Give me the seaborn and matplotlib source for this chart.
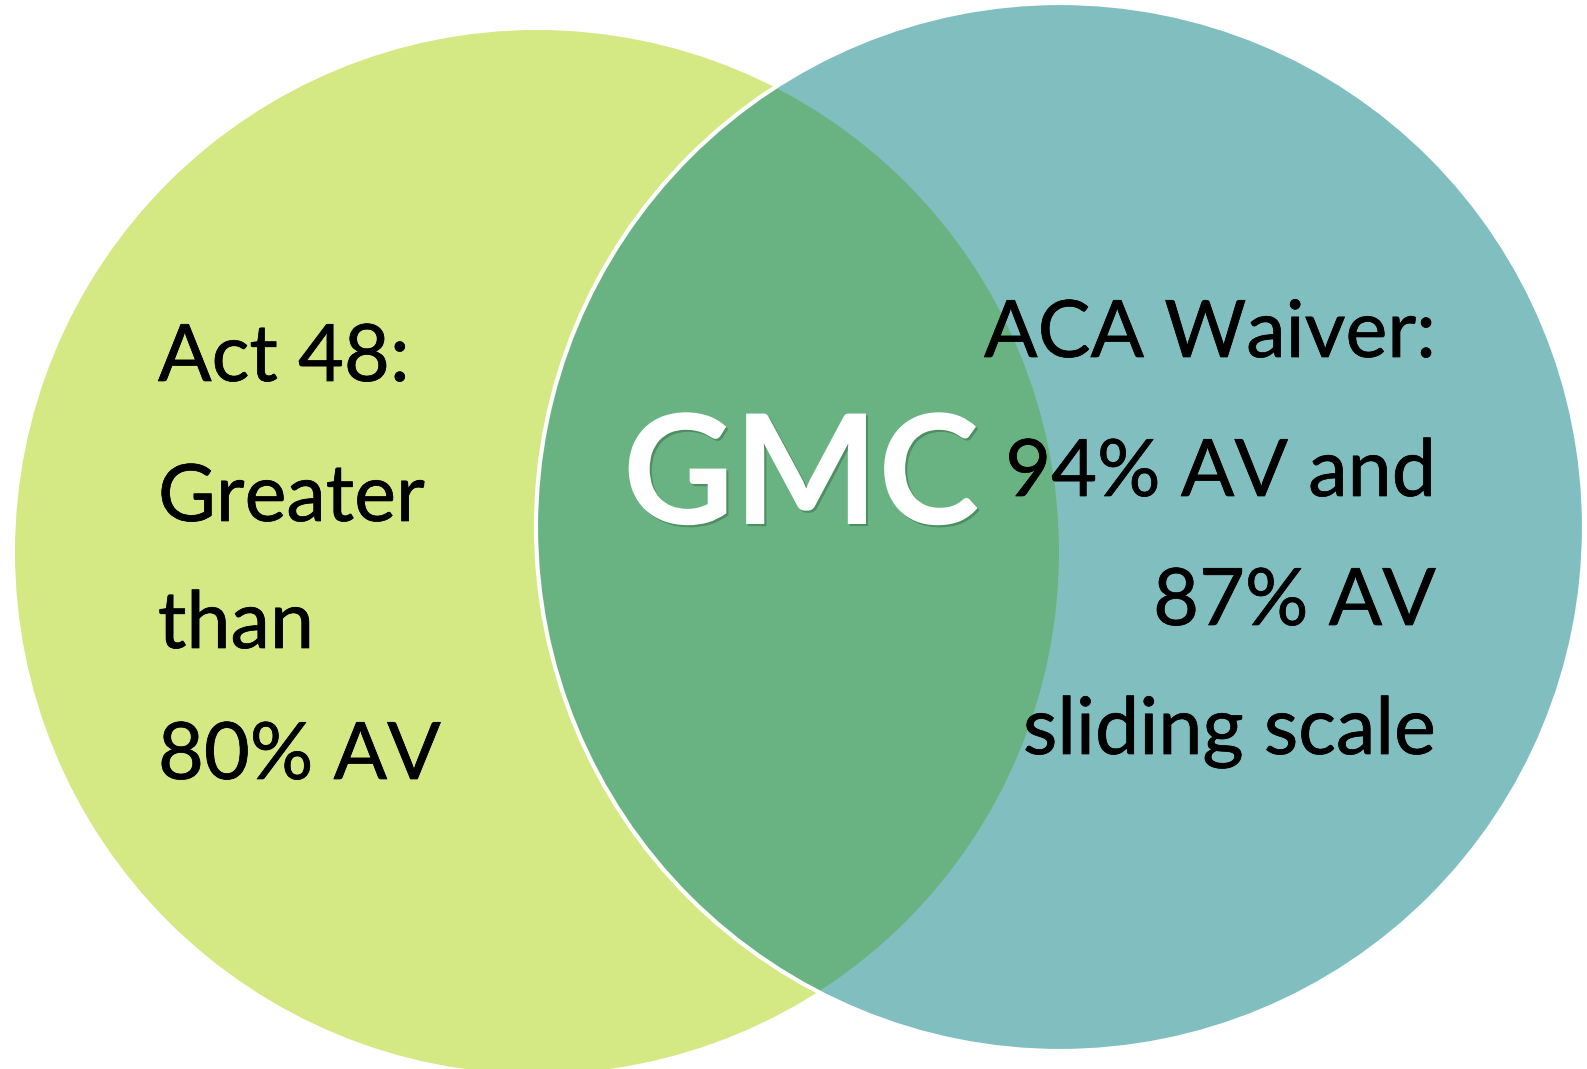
import matplotlib
matplotlib.use("Agg")
import matplotlib.pyplot as plt
import matplotlib.patheffects as pe
from matplotlib.patches import Circle
import seaborn as sns

sns.set_style("white")
plt.rcParams['font.family'] = ['Lato', 'DejaVu Sans']

# Venn content
set_names = ["Act 48", "ACA Waiver"]
left_lines = ["Act 48:", "Greater", "than", "80% AV"]
right_lines = ["ACA Waiver:", "94% AV and", "87% AV", "sliding scale"]
overlap_label = "GMC"

left_color = "#D4E883"
right_color = "#80BEBF"
overlap_color = "#69B382"

W, H = 1587, 1069
fig = plt.figure(figsize=(W / 100, H / 100), dpi=100)
ax = fig.add_axes([0, 0, 1, 1])
ax.set_xlim(0, W)
ax.set_ylim(H, 0)
ax.set_aspect('equal')
ax.axis('off')

R = 522
cL = (537, 552)
cR = (1060, 527)
RR = 524

left = Circle(cL, R, facecolor=left_color, edgecolor='none', zorder=1)
ax.add_patch(left)
right = Circle(cR, RR, facecolor=right_color, edgecolor='none', zorder=2)
ax.add_patch(right)
ov = Circle(cR, RR, facecolor=overlap_color, edgecolor='none', zorder=3)
ax.add_patch(ov)
clip = Circle(cL, R, transform=ax.transData)
ov.set_clip_path(clip)
edge = Circle(cR, RR, facecolor='none', edgecolor='white', linewidth=3.0, zorder=4)
ax.add_patch(edge)

fs = 57
bold_fx = [pe.withStroke(linewidth=0.5, foreground='black')]
left_y = [381, 521, 648, 779]
for t, y in zip(left_lines, left_y):
    ax.text(158, y, t, fontsize=fs, color='black', ha='left', va='baseline', zorder=5,
            path_effects=bold_fx)

right_y = [357, 496, 625, 754]
for t, y in zip(right_lines, right_y):
    ax.text(1436, y, t, fontsize=fs, color='black', ha='right', va='baseline', zorder=5,
            path_effects=bold_fx)

ax.text(801, 524, overlap_label, fontsize=110, fontweight='bold', color='white',
        ha='center', va='baseline', zorder=6,
        path_effects=[pe.withSimplePatchShadow(offset=(1.5, -1.5), shadow_rgbFace='#1a4a2a', alpha=0.35)])

fig.savefig("out.png", dpi=100)
